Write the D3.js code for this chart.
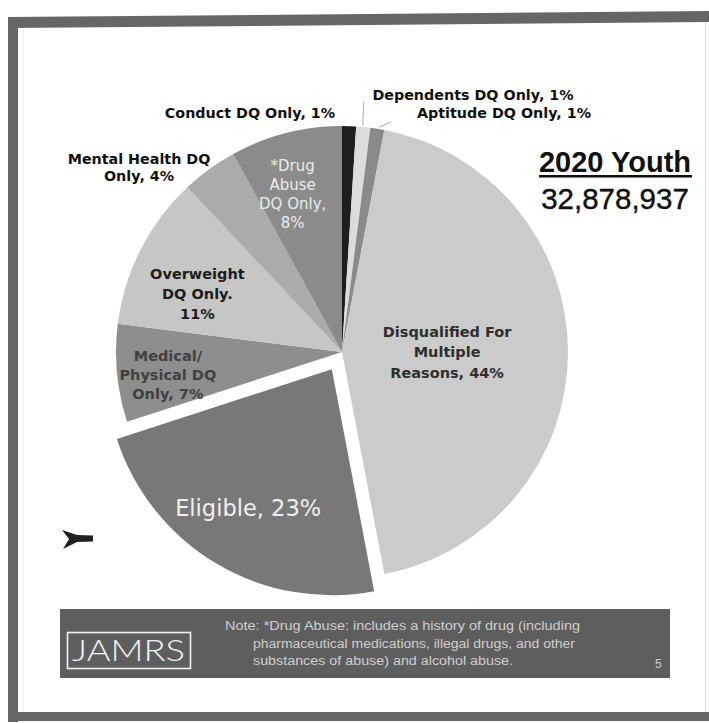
<!DOCTYPE html>
<html>
<head>
<meta charset="utf-8">
<script src="https://cdn.jsdelivr.net/npm/d3@7"></script>
<style>
  html, body { margin: 0; padding: 0; background: #ffffff; }
  svg { display: block; }
</style>
</head>
<body>
<svg id="chart" width="709" height="723"></svg>
<script>
// Qualification status of the 2020 youth population
const categories = [
  "Conduct DQ Only",
  "Dependents DQ Only",
  "Aptitude DQ Only",
  "Disqualified For Multiple Reasons",
  "Eligible",
  "Medical/ Physical DQ Only",
  "Overweight DQ Only",
  "Mental Health DQ Only",
  "*Drug Abuse DQ Only"
];
const shares = [1, 1, 1, 44, 23, 7, 11, 4, 8];
// label lines; {v} is replaced by the slice's share
const labelLines = [
  ["Conduct DQ Only, {v}%"],
  ["Dependents DQ Only, {v}%"],
  ["Aptitude DQ Only, {v}%"],
  ["Disqualified For", "Multiple", "Reasons, {v}%"],
  ["Eligible, {v}%"],
  ["Medical/", "Physical DQ", "Only, {v}%"],
  ["Overweight", "DQ Only.", "{v}%"],
  ["Mental Health DQ", "Only, {v}%"],
  ["*Drug", "Abuse", "DQ Only,", "{v}%"]
];
const youthTitle = "2020 Youth";
const youthTotal = 32878937;
const noteLines = [
  "Note: *Drug Abuse: includes a history of drug (including",
  "pharmaceutical medications, illegal drugs, and other",
  "substances of abuse) and alcohol abuse."
];
const pageNumber = "5";

// slice fills (grayscale palette)
const sliceColors = ["#1e1e1e", "#dcdcdc", "#8a8a8a", "#cbcbcb", "#787878",
                     "#8e8e8e", "#c6c6c6", "#ababab", "#8b8b8b"];
const explodedIndex = 4;

const svg = d3.select("#chart");

// ---- page frame ----
svg.append("polygon")
  .attr("points", "8,17 709,11 709,22 8,28")
  .attr("fill", "#666");
svg.append("rect").attr("x", 8).attr("y", 17).attr("width", 10).attr("height", 705).attr("fill", "#666");
svg.append("rect").attr("x", 8).attr("y", 712).attr("width", 701).attr("height", 9).attr("fill", "#666");
svg.append("line").attr("x1", 705.5).attr("x2", 705.5).attr("y1", 22).attr("y2", 712)
  .attr("stroke", "#d8d8d8").attr("stroke-width", 1);
svg.append("line").attr("x1", 23.5).attr("x2", 23.5).attr("y1", 28).attr("y2", 712)
  .attr("stroke", "#eeeeee").attr("stroke-width", 1);

// ---- pie ----
const cx = 342, cy = 352, R = 226, explode = 20;
const pie = d3.pie().value(d => d).sort(null).startAngle(0).endAngle(2 * Math.PI);
const arcs = pie(shares);
const arcGen = d3.arc().innerRadius(0).outerRadius(R);

const g = svg.append("g").attr("transform", `translate(${cx},${cy})`);

function offsetOf(i, a) {
  if (i !== explodedIndex) return [0, 0];
  const mid = (a.startAngle + a.endAngle) / 2;
  return [explode * Math.sin(mid), -explode * Math.cos(mid)];
}

g.selectAll("path.slice")
  .data(arcs)
  .join("path")
  .attr("class", "slice")
  .attr("d", arcGen)
  .attr("fill", (d, i) => sliceColors[i])
  .attr("transform", (d, i) => { const o = offsetOf(i, d); return `translate(${o[0]},${o[1]})`; });

// ---- labels ----
function fill(line, v) { return line.replace("{v}", v); }

// in-slice labels: radius fraction, angle nudge (deg), font, line height, colour
const inside = {
  3: { k: 0.465, nudge: 0, size: 14.5, lh: 20.5, color: "#2e2e2e", weight: "bold" },
  4: { k: 0.717, nudge: 0.5, size: 22.5, lh: 24, color: "#f0f0f0", weight: "normal" },
  5: { k: 0.777, nudge: -2, size: 14.5, lh: 19, color: "#404040", weight: "bold" },
  6: { k: 0.69, nudge: -5, size: 14.5, lh: 20, color: "#1c1c1c", weight: "bold" },
  8: { k: 0.73, nudge: -3, size: 15, lh: 19, color: "#ececec", weight: "normal" }
};
// outside labels: centre of text block
const outside = {
  0: { x: 250, y: 113 },
  1: { x: 473, y: 95 },
  2: { x: 504, y: 113 },
  7: { x: 139, y: 167.5, lh: 17 }
};

const labelG = svg.append("g").attr("font-family", "'DejaVu Sans', sans-serif");

arcs.forEach((a, i) => {
  let x, y, size, lh, color, weight;
  if (inside[i]) {
    const s = inside[i];
    const mid = (a.startAngle + a.endAngle) / 2 + s.nudge * Math.PI / 180;
    const o = offsetOf(i, a);
    x = cx + o[0] + s.k * R * Math.sin(mid);
    y = cy + o[1] - s.k * R * Math.cos(mid);
    size = s.size; lh = s.lh; color = s.color; weight = s.weight;
  } else {
    const s = outside[i];
    x = s.x; y = s.y; size = 14.3; lh = s.lh || 17; color = "#111"; weight = "bold";
  }
  const lines = labelLines[i].map(l => fill(l, shares[i]));
  const top = y - (lines.length - 1) * lh / 2;
  const t = labelG.append("text")
    .attr("text-anchor", "middle")
    .attr("font-size", size)
    .attr("font-weight", weight)
    .attr("fill", color);
  lines.forEach((l, j) => {
    t.append("tspan").attr("x", x).attr("y", top + j * lh + size * 0.36).text(l);
  });
});

// leader lines for the two thin slices at the top
function outerPoint(i, frac) {
  const a = arcs[i];
  const ang = a.startAngle + (a.endAngle - a.startAngle) * frac;
  return [cx + (R + 2) * Math.sin(ang), cy - (R + 2) * Math.cos(ang)];
}
const p1 = outerPoint(1, 0.45), p2 = outerPoint(2, 0.6);
svg.append("line").attr("x1", p1[0]).attr("y1", p1[1]).attr("x2", p1[0] + 1).attr("y2", 102)
  .attr("stroke", "#a8a8a8").attr("stroke-width", 1);
svg.append("line").attr("x1", p2[0]).attr("y1", p2[1]).attr("x2", p2[0] + 12).attr("y2", p2[1] - 5)
  .attr("stroke", "#a8a8a8").attr("stroke-width", 1);

// ---- population headline ----
svg.append("text")
  .attr("x", 615).attr("y", 172)
  .attr("text-anchor", "middle")
  .attr("font-family", "'Liberation Sans', Arial, sans-serif")
  .attr("font-weight", "bold").attr("font-size", 29).attr("fill", "#111")
  .text(youthTitle);
svg.append("rect").attr("x", 539).attr("y", 175).attr("width", 153).attr("height", 2.5).attr("fill", "#111");
svg.append("text")
  .attr("x", 615).attr("y", 209)
  .attr("text-anchor", "middle")
  .attr("font-family", "'Liberation Sans', Arial, sans-serif")
  .attr("font-size", 29.5).attr("fill", "#111")
  .attr("stroke", "#111").attr("stroke-width", 0.4)
  .text(d3.format(",")(youthTotal));

// ---- small arrow mark at left ----
svg.append("path")
  .attr("d", "M62,530 L77,535 L93,535.5 L93,541.5 L77,542 L63,549 L69,539 Z")
  .attr("fill", "#222");

// ---- footer band ----
svg.append("rect").attr("x", 60).attr("y", 609).attr("width", 610).attr("height", 69)
  .attr("fill", "#5e5e5e");
svg.append("rect").attr("x", 67.5).attr("y", 632.5).attr("width", 123).attr("height", 36)
  .attr("fill", "none").attr("stroke", "#f2f2f2").attr("stroke-width", 1.6);
svg.append("text")
  .attr("x", 72).attr("y", 661)
  .attr("font-family", "Lato, 'Open Sans', sans-serif")
  .attr("font-weight", 300)
  .attr("font-size", 30).attr("fill", "#f4f4f4")
  .attr("textLength", 113).attr("lengthAdjust", "spacingAndGlyphs")
  .text("JAMRS");
// note lines: hanging indent, widths set to the footer's text column
const noteLayout = [{ x: 225, w: 355 }, { x: 253, w: 322 }, { x: 253, w: 260 }];
noteLines.forEach((l, j) => {
  svg.append("text")
    .attr("x", noteLayout[j].x)
    .attr("y", 630 + j * 17.5)
    .attr("font-family", "'Liberation Sans', Arial, sans-serif")
    .attr("font-size", 12).attr("fill", "#cfcfcf")
    .attr("textLength", noteLayout[j].w).attr("lengthAdjust", "spacingAndGlyphs")
    .text(l);
});
svg.append("text")
  .attr("x", 655).attr("y", 668)
  .attr("font-family", "'Liberation Sans', Arial, sans-serif")
  .attr("font-size", 12).attr("fill", "#cfcfcf")
  .text(pageNumber);
</script>
</body>
</html>
